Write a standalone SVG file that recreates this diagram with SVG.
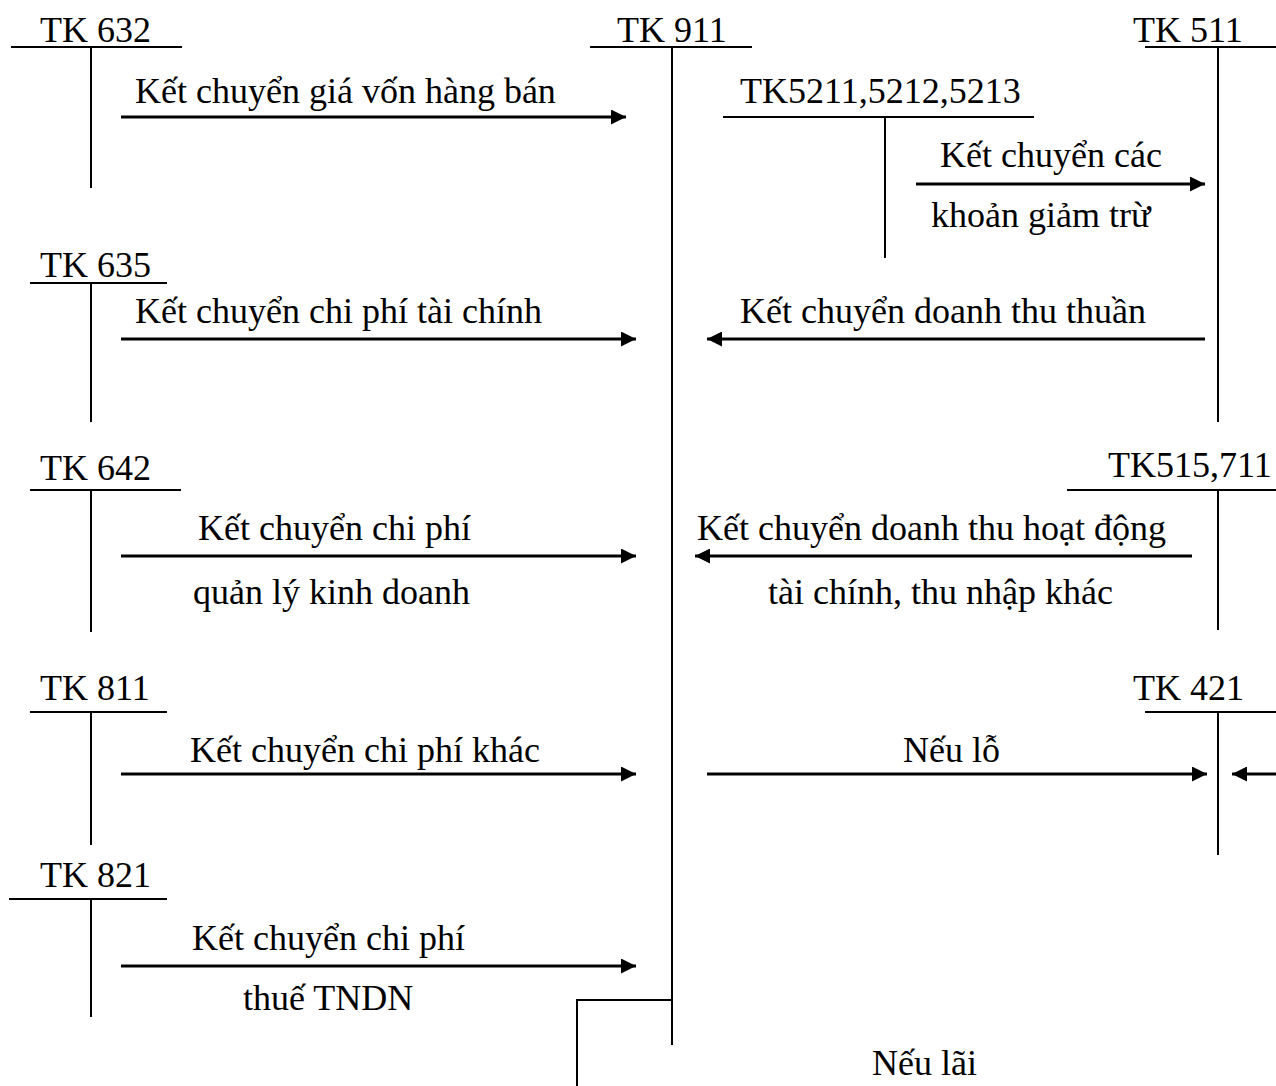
<svg xmlns="http://www.w3.org/2000/svg" width="1276" height="1086" viewBox="0 0 1276 1086">
<style>
text{font-family:"Liberation Serif","Times New Roman",serif;font-size:36px;fill:#000}
.t{stroke:#000;stroke-width:2;fill:none}
.a{stroke:#000;stroke-width:3;fill:none}
</style>
<defs>
<marker id="ah" viewBox="0 0 10 10" refX="10" refY="5" markerWidth="7" markerHeight="5" markerUnits="strokeWidth" orient="auto"><path d="M0,0L10,5L0,10z" fill="#000"/></marker>
</defs>
<rect width="1276" height="1086" fill="#fff"/>
<g id="tk632"><text x="40" y="42">TK 632</text><path class="t" d="M11,47H182M91,47V188"/></g>
<g id="tk635"><text x="40" y="277">TK 635</text><path class="t" d="M30,283H167M91,283V422"/></g>
<g id="tk642"><text x="40" y="480">TK 642</text><path class="t" d="M30,490H181M91,490V632"/></g>
<g id="tk811"><text x="40" y="700">TK 811</text><path class="t" d="M30,712H167M91,712V845"/></g>
<g id="tk821"><text x="40" y="887">TK 821</text><path class="t" d="M9,899H167M91,899V1017"/></g>
<g id="tk911"><text x="617" y="42">TK 911</text><path class="t" d="M590,47H752M672,47V1045"/></g>
<g id="tk511"><text x="1133" y="42">TK 511</text><path class="t" d="M1145,47H1276M1218,47V422"/></g>
<g id="tk521"><text x="740" y="103">TK5211,5212,5213</text><path class="t" d="M723,117H1034M885,117V258"/></g>
<g id="tk515"><text x="1108" y="477">TK515,711</text><path class="t" d="M1067,490H1276M1218,490V630"/></g>
<g id="tk421"><text x="1133" y="700">TK 421</text><path class="t" d="M1145,712H1276M1218,712V855"/></g>
<g id="connectors">
<path class="a" d="M121,117H626" marker-end="url(#ah)"/>
<path class="a" d="M121,339H636" marker-end="url(#ah)"/>
<path class="a" d="M121,556H636" marker-end="url(#ah)"/>
<path class="a" d="M121,774H636" marker-end="url(#ah)"/>
<path class="a" d="M121,966H636" marker-end="url(#ah)"/>
<path class="a" d="M916,184H1205" marker-end="url(#ah)"/>
<path class="a" d="M1205,339H707" marker-end="url(#ah)"/>
<path class="a" d="M1192,556H695" marker-end="url(#ah)"/>
<path class="a" d="M707,774H1207" marker-end="url(#ah)"/>
<path class="a" d="M1276,774H1232" marker-end="url(#ah)"/>
<path class="t" d="M672,1000H577V1086"/>
</g>
<g id="labels">
<text x="135" y="103">Kết chuyển giá vốn hàng bán</text>
<text x="135" y="323">Kết chuyển chi phí tài chính</text>
<text x="198" y="540">Kết chuyển chi phí</text>
<text x="193" y="604">quản lý kinh doanh</text>
<text x="190" y="762">Kết chuyển chi phí khác</text>
<text x="192" y="950">Kết chuyển chi phí</text>
<text x="243" y="1010">thuế TNDN</text>
<text x="940" y="167">Kết chuyển các</text>
<text x="931" y="227">khoản giảm trừ</text>
<text x="740" y="323">Kết chuyển doanh thu thuần</text>
<text x="697" y="540">Kết chuyển doanh thu hoạt động</text>
<text x="768" y="604">tài chính, thu nhập khác</text>
<text x="903" y="762">Nếu lỗ</text>
<text x="872" y="1075">Nếu lãi</text>
</g>
</svg>
